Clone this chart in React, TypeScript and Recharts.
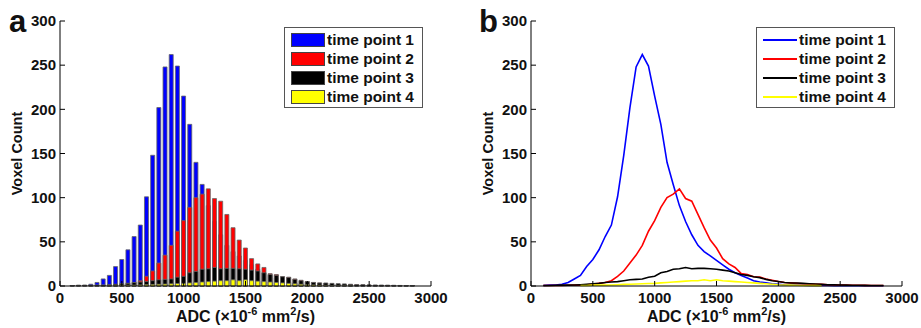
import React from "react";
import { BarChart, Bar, LineChart, Line, XAxis, YAxis, Label } from "recharts";

const adc = [100,150,200,250,300,350,400,450,500,550,600,650,700,750,800,850,900,950,1000,1050,1100,1150,1200,1250,1300,1350,1400,1450,1500,1550,1600,1650,1700,1750,1800,1850,1900,1950,2000,2050,2100,2150,2200,2250,2300,2350,2400,2450,2500,2550,2600,2650,2700,2750,2800,2850];
const tp1 = [0.5,1,1,2,4,8,12,22,30,41,56,69,101,148,202,248,262,249,215,183,140,115,91,73,58,46,39,34,29,24,19,15,12,9,6,4.5,3.5,2.5,2,1.5,1.2,1,0.8,0.7,0.6,0.5,0.5,0.4,0.4,0.3,0.3,0.3,0.2,0.2,0.2,0.2];
const tp2 = [0.5,0.5,0.5,0.5,0.8,1,1,1.5,2,3,4,6,11,17,26,35,46,62,74,89,100,104,110,99,96,81,66,52,43,31,25,21,14,13,10.5,10,8,6.5,5,4,3.5,3,2.5,2.2,2,1.8,1.5,1.3,1.2,1,0.9,0.8,0.7,0.6,0.5,0.5];
const tp3 = [0.5,0.6,0.8,1,1,1.1,1.5,2,2.6,3,4,4.5,5,6,7,7.5,8,10,11,15,16.5,19,19.5,21,19.5,20,20,19.5,19,18,17,15,13,12,10.5,9.5,7.5,6,5,4,3.4,3.4,3,2.6,2.3,1.9,1.5,1.5,1.2,1,0.9,0.8,0.7,0.6,0.5,0.5];
const tp4 = [null,null,null,null,null,null,0.5,0.5,1,1,1,1.2,1.5,1.8,2,2.2,2.5,2.8,3,3.5,4,4.5,5,5.5,6,6,7,6,7,6,5.5,5,4.5,4,3.5,3,2.5,2,1.5,1.2,1,0.8,0.6,0.5,0.4,0.3,null,null,null,null,null,null,null,null,null,null];

const xTicks = [0,500,1000,1500,2000,2500,3000];
const yTicks = [0,50,100,150,200,250,300];
const seriesNames = ["time point 1","time point 2","time point 3","time point 4"];
const seriesKeys = ["tp1","tp2","tp3","tp4"];
const seriesColors = ["#0000ff","#ff0000","#000000","#ffff00"];

const data = adc.map((x, i) => ({ x, tp1: tp1[i], tp2: tp2[i], tp3: tp3[i], tp4: tp4[i] }));

const FONT = '"Liberation Sans", Arial, Helvetica, sans-serif';
const tickStyle = { fontSize: 15, fontWeight: 700, fill: "#111", fontFamily: FONT };

const XTitle = (props: any) => {
  const vb = props.viewBox || {};
  const cx = vb.x + vb.width / 2;
  return (
    <text x={cx} y={vb.y + 36} textAnchor="middle" fill="#111" style={{ fontSize: 16, fontWeight: 700, fontFamily: FONT }}>
      ADC (×10<tspan dy={-7} fontSize={11}>-6</tspan><tspan dy={7}> mm</tspan><tspan dy={-7} fontSize={11}>2</tspan><tspan dy={7}>/s)</tspan>
    </text>
  );
};

const makeYTitle = (bx: number) => (props: any) => {
  const vb = props.viewBox || {};
  const cy = vb.y + vb.height / 2;
  return (
    <text x={bx} y={cy} textAnchor="middle" transform={`rotate(-90, ${bx}, ${cy})`} fill="#111" style={{ fontSize: 14.5, fontWeight: 700, fontFamily: FONT }}>
      Voxel Count
    </text>
  );
};

const LegendBox = ({ kind, left }: { kind: "bar" | "line"; left: number }) => (
  <div style={{ position: "absolute", left, top: 27, border: "1px solid #555", background: "#fff", padding: "2px 4px 1px 6px", fontFamily: FONT, fontWeight: 700, fontSize: 15.5, color: "#111", width: 127 }}>
    {seriesNames.map((n, i) => (
      <div key={n} style={{ display: "flex", alignItems: "center", height: 19 }}>
        {kind === "bar" ? (
          <div style={{ width: 32, height: 12, background: seriesColors[i], border: "1px solid #444", marginRight: 2 }} />
        ) : (
          <div style={{ width: 34, height: 2, background: seriesColors[i], marginRight: 2 }} />
        )}
        <span style={{ whiteSpace: "nowrap" }}>{n}</span>
      </div>
    ))}
  </div>
);

const PanelLetter = ({ t, left }: { t: string; left: number }) => (
  <div style={{ position: "absolute", left, top: 6, fontFamily: FONT, fontWeight: 700, fontSize: 31, lineHeight: "31px", color: "#111" }}>{t}</div>
);

export default function App() {
  return (
    <div style={{ position: "absolute", left: 0, top: 0, width: 921, height: 328, background: "#fff", overflow: "hidden" }}>
      <div style={{ position: "absolute", left: 0, top: 0, width: 460, height: 328 }}>
        <BarChart width={460} height={328} data={data} margin={{ top: 21, right: 29, bottom: 0, left: 0 }} barSize={4} barGap={-4}>
          <XAxis dataKey="x" type="number" domain={[0, 3000]} ticks={xTicks} tickSize={-5} tickMargin={11} height={42}
            axisLine={{ stroke: "#000" }} tickLine={{ stroke: "#000" }} tick={tickStyle} interval={0}>
            <Label content={XTitle} />
          </XAxis>
          <YAxis type="number" domain={[0, 300]} ticks={yTicks} width={60} tickSize={-5} tickMargin={9}
            axisLine={{ stroke: "#000" }} tickLine={{ stroke: "#000" }} tick={tickStyle} interval={0}>
            <Label content={makeYTitle(22)} />
          </YAxis>
          {seriesKeys.map((k, i) => (
            <Bar key={k} dataKey={k} name={seriesNames[i]} fill={seriesColors[i]} stroke="#666" strokeWidth={0.8} isAnimationActive={false} />
          ))}
        </BarChart>
        <LegendBox kind="bar" left={284} />
        <PanelLetter t="a" left={9} />
      </div>
      <div style={{ position: "absolute", left: 460, top: 0, width: 461, height: 328 }}>
        <LineChart width={461} height={328} data={data} margin={{ top: 21, right: 19, bottom: 0, left: 0 }}>
          <XAxis dataKey="x" type="number" domain={[0, 3000]} ticks={xTicks} tickSize={-5} tickMargin={11} height={42}
            axisLine={{ stroke: "#000" }} tickLine={{ stroke: "#000" }} tick={tickStyle} interval={0}>
            <Label content={XTitle} />
          </XAxis>
          <YAxis type="number" domain={[0, 300]} ticks={yTicks} width={71} tickSize={-5} tickMargin={9}
            axisLine={{ stroke: "#000" }} tickLine={{ stroke: "#000" }} tick={tickStyle} interval={0}>
            <Label content={makeYTitle(33)} />
          </YAxis>
          {seriesKeys.map((k, i) => (
            <Line key={k} dataKey={k} name={seriesNames[i]} type="linear" stroke={seriesColors[i]} strokeWidth={1.6} dot={false} isAnimationActive={false} />
          ))}
        </LineChart>
        <LegendBox kind="line" left={296} />
        <PanelLetter t="b" left={19} />
      </div>
    </div>
  );
}
